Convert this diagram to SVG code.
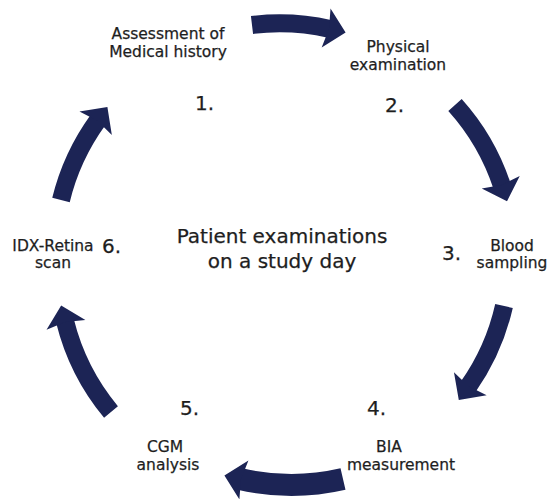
<svg xmlns="http://www.w3.org/2000/svg" width="550" height="499" viewBox="0 0 550 499">
  <style>
    .lbl { font-family: "DejaVu Sans", "Liberation Sans", sans-serif; font-size: 15.5px; fill: #1e1e1e; stroke: #1e1e1e; stroke-width: 0.25; text-anchor: middle; }
    .num { font-family: "DejaVu Sans", "Liberation Sans", sans-serif; font-size: 20px; fill: #1e1e1e; stroke: #1e1e1e; stroke-width: 0.25; }
    .title { font-family: "DejaVu Sans", "Liberation Sans", sans-serif; font-size: 20px; fill: #1e1e1e; stroke: #1e1e1e; stroke-width: 0.25; text-anchor: middle; }
    .arc { fill: none; stroke: #1c2455; stroke-width: 18; stroke-linecap: butt; marker-end: url(#head); }
  </style>
  <defs>
    <marker id="head" markerUnits="userSpaceOnUse" viewBox="-10 -25 40 50" markerWidth="40" markerHeight="50" refX="0" refY="0" orient="auto" overflow="visible">
      <path d="M -4 -20 L 16 0 L -4 20 L -1 0 Z" fill="#1c2455"/>
    </marker>
  </defs>
  <rect width="550" height="499" fill="#fff"/>

  <g id="connectors">
    <path class="arc" d="M 252 25 A 228 228 0 0 1 330 29"/>
    <path class="arc" d="M 455 105 A 228 228 0 0 1 502 186"/>
    <path class="arc" d="M 504 306 A 228 228 0 0 1 468 387"/>
    <path class="arc" style="stroke-width:22" d="M 343 479 A 228 228 0 0 1 240 479"/>
    <path class="arc" d="M 111 412 A 228 228 0 0 1 65 321"/>
    <path class="arc" d="M 61 200 A 228 228 0 0 1 98 120"/>
  </g>

  <g id="center">
    <text class="title" x="282" y="243">Patient examinations</text>
    <text class="title" x="282" y="268">on a study day</text>
  </g>

  <g id="node1">
    <text class="lbl" x="168" y="39">Assessment of</text>
    <text class="lbl" x="168" y="57">Medical history</text>
    <text class="num" x="195" y="110">1.</text>
  </g>

  <g id="node2">
    <text class="lbl" x="398" y="52">Physical</text>
    <text class="lbl" x="398" y="70">examination</text>
    <text class="num" x="385" y="112">2.</text>
  </g>

  <g id="node3">
    <text class="num" x="442" y="260">3.</text>
    <text class="lbl" x="512" y="251">Blood</text>
    <text class="lbl" x="512" y="268">sampling</text>
  </g>

  <g id="node4">
    <text class="num" x="367" y="415">4.</text>
    <text class="lbl" x="389" y="452">BIA</text>
    <text class="lbl" x="401" y="470">measurement</text>
  </g>

  <g id="node5">
    <text class="num" x="180" y="415">5.</text>
    <text class="lbl" x="165" y="452">CGM</text>
    <text class="lbl" x="168" y="470">analysis</text>
  </g>

  <g id="node6">
    <text class="lbl" x="53" y="251">IDX-Retina</text>
    <text class="lbl" x="53" y="268">scan</text>
    <text class="num" x="102" y="253">6.</text>
  </g>
</svg>
